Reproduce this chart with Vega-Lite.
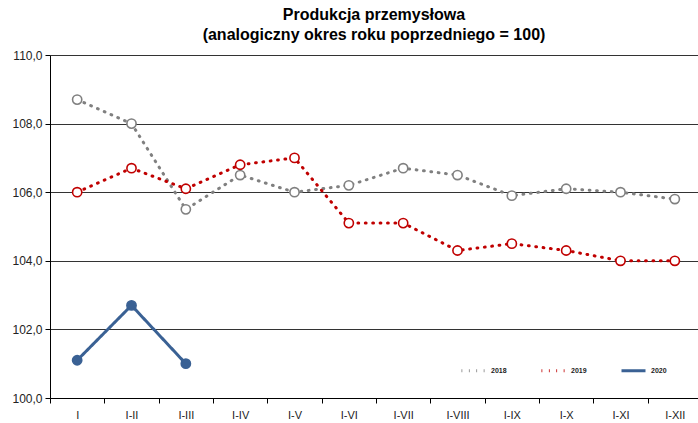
{
  "$schema": "https://vega.github.io/schema/vega-lite/v6.json",
  "width": 648,
  "height": 343,
  "autosize": "none",
  "padding": {"left": 50, "top": 55, "right": 0, "bottom": 25},
  "background": "white",
  "config": {
    "font": "Liberation Sans",
    "view": {"stroke": null},
    "locale": {"number": {"decimal": ",", "thousands": " ", "grouping": [3], "currency": ["", " zł"]}}
  },
  "title": {
    "text": ["Produkcja przemysłowa", "(analogiczny okres roku poprzedniego = 100)"],
    "fontSize": 16,
    "fontWeight": "bold",
    "lineHeight": 20,
    "color": "black",
    "anchor": "middle",
    "offset": 6
  },
  "data": {
    "values": [
      {"month": "I", "year": "2018", "value": 108.7},
      {"month": "I-II", "year": "2018", "value": 108.0},
      {"month": "I-III", "year": "2018", "value": 105.5},
      {"month": "I-IV", "year": "2018", "value": 106.5},
      {"month": "I-V", "year": "2018", "value": 106.0},
      {"month": "I-VI", "year": "2018", "value": 106.2},
      {"month": "I-VII", "year": "2018", "value": 106.7},
      {"month": "I-VIII", "year": "2018", "value": 106.5},
      {"month": "I-IX", "year": "2018", "value": 105.9},
      {"month": "I-X", "year": "2018", "value": 106.1},
      {"month": "I-XI", "year": "2018", "value": 106.0},
      {"month": "I-XII", "year": "2018", "value": 105.8},
      {"month": "I", "year": "2019", "value": 106.0},
      {"month": "I-II", "year": "2019", "value": 106.7},
      {"month": "I-III", "year": "2019", "value": 106.1},
      {"month": "I-IV", "year": "2019", "value": 106.8},
      {"month": "I-V", "year": "2019", "value": 107.0},
      {"month": "I-VI", "year": "2019", "value": 105.1},
      {"month": "I-VII", "year": "2019", "value": 105.1},
      {"month": "I-VIII", "year": "2019", "value": 104.3},
      {"month": "I-IX", "year": "2019", "value": 104.5},
      {"month": "I-X", "year": "2019", "value": 104.3},
      {"month": "I-XI", "year": "2019", "value": 104.0},
      {"month": "I-XII", "year": "2019", "value": 104.0},
      {"month": "I", "year": "2020", "value": 101.1},
      {"month": "I-II", "year": "2020", "value": 102.7},
      {"month": "I-III", "year": "2020", "value": 101.0}
    ]
  },
  "encoding": {
    "x": {
      "field": "month",
      "type": "nominal",
      "sort": null,
      "scale": {"range": [0, 652], "paddingInner": 0, "paddingOuter": 0},
      "axis": {
        "title": null,
        "labelAngle": 0,
        "labelFontSize": 11,
        "labelColor": "#222",
        "labelPadding": 6,
        "domainColor": "black",
        "tickColor": "black",
        "tickSize": 5,
        "tickBand": "extent",
        "grid": false
      }
    },
    "y": {
      "field": "value",
      "type": "quantitative",
      "scale": {"domain": [100, 110], "nice": false, "zero": false},
      "axis": {
        "title": null,
        "values": [100, 102, 104, 106, 108, 110],
        "format": ".1f",
        "labelFontSize": 12,
        "labelColor": "#222",
        "labelPadding": 3,
        "domainColor": "black",
        "tickColor": "black",
        "tickSize": 5,
        "grid": true,
        "gridColor": "#333",
        "gridOpacity": 1,
        "gridWidth": 1.2
      }
    }
  },
  "layer": [
    {
      "mark": {"type": "line", "strokeCap": "round"},
      "encoding": {
        "color": {
          "field": "year",
          "type": "nominal",
          "title": null,
          "scale": {"domain": ["2018", "2019", "2020"], "range": ["#808080", "#c00000", "#3a6194"]},
          "legend": {
            "orient": "none",
            "direction": "horizontal",
            "legendX": 410,
            "legendY": 302,
            "symbolType": "stroke",
            "symbolSize": 576,
            "symbolStrokeWidth": 3,
            "labelFontSize": 7,
            "labelFontWeight": "bold",
            "labelColor": "#222",
            "columnPadding": 28,
            "labelOffset": 4
          }
        },
        "strokeDash": {
          "field": "year",
          "type": "nominal",
          "title": null,
          "scale": {"domain": ["2018", "2019", "2020"], "range": [[0.8, 6.6], [0.8, 6.6], [1, 0]]}
        },
        "strokeWidth": {
          "field": "year",
          "type": "nominal",
          "legend": null,
          "scale": {"domain": ["2018", "2019", "2020"], "range": [3, 3, 3]}
        }
      }
    },
    {
      "mark": {"type": "point", "filled": true, "size": 85, "strokeWidth": 1.6, "opacity": 1},
      "encoding": {
        "stroke": {
          "field": "year",
          "type": "nominal",
          "legend": null,
          "scale": {"domain": ["2018", "2019", "2020"], "range": ["#808080", "#c00000", "#3a6194"]}
        },
        "fill": {
          "field": "year",
          "type": "nominal",
          "legend": null,
          "scale": {"domain": ["2018", "2019", "2020"], "range": ["white", "white", "#3a6194"]}
        }
      }
    }
  ]
}
